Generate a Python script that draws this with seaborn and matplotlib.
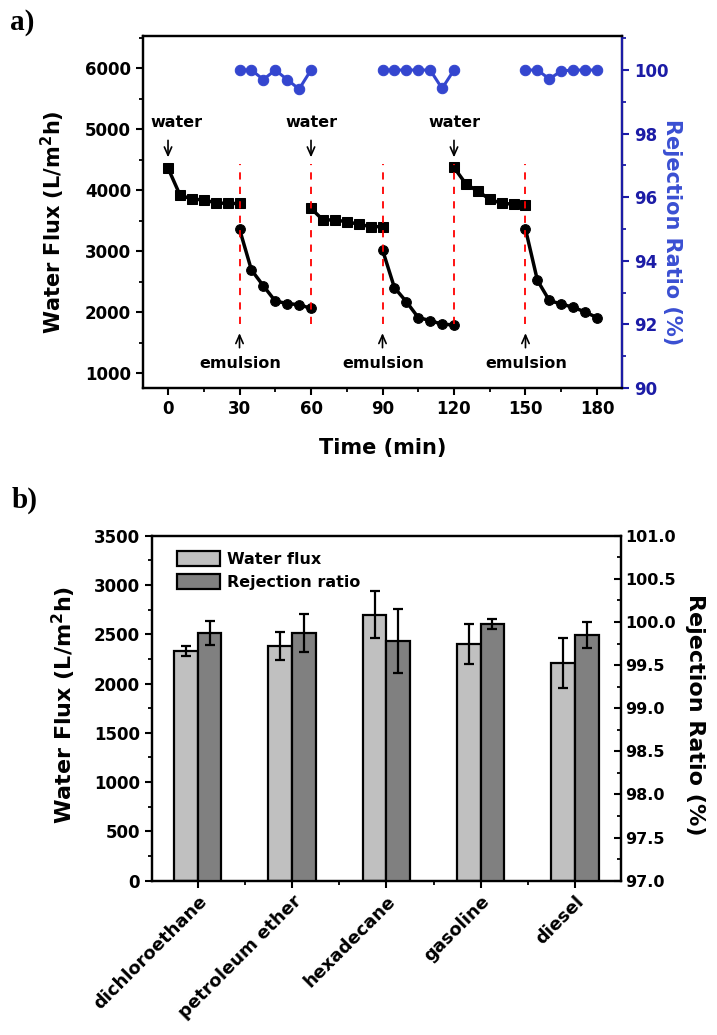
import numpy as np
import pandas as pd
import matplotlib
matplotlib.use("Agg")
import matplotlib.pyplot as plt
import seaborn as sns
from matplotlib.ticker import MultipleLocator, FormatStrFormatter
from matplotlib.patches import Patch

# ---------------- data: panel a ----------------
t_w1 = [0, 5, 10, 15, 20, 25, 30]
flux_w1 = [4360, 3920, 3850, 3840, 3790, 3780, 3780]
t_e1 = [30, 35, 40, 45, 50, 55, 60]
flux_e1 = [3360, 2690, 2430, 2180, 2140, 2120, 2060]
rej_e1 = [100.0, 100.0, 99.7, 100.0, 99.7, 99.4, 100.0]

t_w2 = [60, 65, 70, 75, 80, 85, 90]
flux_w2 = [3700, 3510, 3510, 3480, 3440, 3400, 3400]
t_e2 = [90, 95, 100, 105, 110, 115, 120]
flux_e2 = [3020, 2400, 2170, 1910, 1860, 1800, 1790]
rej_e2 = [100.0, 100.0, 100.0, 100.0, 100.0, 99.42, 100.0]

t_w3 = [120, 125, 130, 135, 140, 145, 150]
flux_w3 = [4370, 4100, 3980, 3850, 3780, 3770, 3760]
t_e3 = [150, 155, 160, 165, 170, 175, 180]
flux_e3 = [3360, 2520, 2190, 2130, 2080, 2000, 1910]
rej_e3 = [100.0, 100.0, 99.72, 99.97, 100.0, 100.0, 100.0]

switch_times = [30, 60, 90, 120, 150]
water_marks = [0, 60, 120]
emulsion_marks = [30, 90, 150]

# ---------------- data: panel b ----------------
oils = ["dichloroethane", "petroleum ether", "hexadecane", "gasoline", "diesel"]
flux_b = [2330, 2380, 2700, 2400, 2210]
flux_b_err = [55, 145, 240, 205, 250]
rej_b = [99.87, 99.87, 99.78, 99.98, 99.85]
rej_b_err = [0.14, 0.22, 0.37, 0.06, 0.15]
series_b = ["Water flux", "Rejection ratio"]

# ---------------- style ----------------
sns.set_theme(style="ticks")
plt.rcParams.update({
    "font.family": ["DejaVu Sans"],
    "font.weight": "bold",
    "axes.labelweight": "bold",
    "text.color": "black",
    "axes.labelcolor": "black",
    "axes.linewidth": 1.6,
    "axes.edgecolor": "black",
    "xtick.color": "black",
    "ytick.color": "black",
    "xtick.major.width": 1.5,
    "ytick.major.width": 1.5,
    "xtick.minor.width": 1.3,
    "ytick.minor.width": 1.3,
    "xtick.major.size": 5,
    "ytick.major.size": 5,
    "xtick.minor.size": 3,
    "ytick.minor.size": 3,
    "xtick.top": False,
    "ytick.right": False,
})

fig = plt.figure(figsize=(7.17, 10.35), dpi=100)
W, H = 717, 1035

# ================= panel a =================
ax = fig.add_axes([143 / W, 1 - 388 / H, 479 / W, 352 / H])
axr = ax.twinx()

segs = []
for k, (t, f, kind) in enumerate([(t_w1, flux_w1, "water"), (t_e1, flux_e1, "emulsion"),
                                  (t_w2, flux_w2, "water"), (t_e2, flux_e2, "emulsion"),
                                  (t_w3, flux_w3, "water"), (t_e3, flux_e3, "emulsion")]):
    segs.append(pd.DataFrame({"t": t, "flux": f, "kind": kind, "seg": k}))
df_flux = pd.concat(segs, ignore_index=True)

rsegs = []
for k, (t, r) in enumerate([(t_e1, rej_e1), (t_e2, rej_e2), (t_e3, rej_e3)]):
    rsegs.append(pd.DataFrame({"t": t, "rej": r, "seg": k}))
df_rej = pd.concat(rsegs, ignore_index=True)

sns.lineplot(data=df_flux, x="t", y="flux", units="seg", estimator=None,
             style="kind", markers={"water": "s", "emulsion": "o"}, dashes=False,
             color="black", linewidth=2.5, markersize=7, markeredgecolor="black",
             legend=False, ax=ax, zorder=2)

blue = "#3446cf"
sns.lineplot(data=df_rej, x="t", y="rej", units="seg", estimator=None,
             marker="o", color=blue, linewidth=2.2, markersize=7.5,
             markeredgecolor=blue, legend=False, ax=axr)

for ts in switch_times:
    ax.vlines(ts, 1800, 4420, colors="red", linestyles=(0, (4, 4)), linewidth=1.3, zorder=3)

ap = dict(arrowstyle="->,head_length=0.5,head_width=0.22", color="black", lw=1.2)
for i, tw in enumerate(water_marks):
    ax.annotate("", xy=(tw, 4490), xytext=(tw, 4860), arrowprops=ap)
    ax.text(tw + (3.6 if i == 0 else 0.3), 5100, "water", ha="center", va="center",
            fontsize=11.5, fontweight="bold")
for te in emulsion_marks:
    ax.annotate("", xy=(te, 1700), xytext=(te, 1370), arrowprops=ap)
    ax.text(te + 0.5, 1150, "emulsion", ha="center", va="center",
            fontsize=11.5, fontweight="bold")

ax.set_xlim(-10.5, 190.5)
axr.set_ylim(90, 101.07)
ax.xaxis.set_major_locator(MultipleLocator(30))
ax.xaxis.set_minor_locator(MultipleLocator(15))
ax.set_yticks([1000, 2000, 3000, 4000, 5000, 6000])
ax.yaxis.set_minor_locator(MultipleLocator(500))
ax.set_ylim(755, 6525)
axr.yaxis.set_major_locator(MultipleLocator(2))
axr.yaxis.set_minor_locator(MultipleLocator(1))

ax.tick_params(axis="both", which="both", direction="out", labelsize=12)
ax.tick_params(axis="x", which="both", top=False, labeltop=False)
ax.tick_params(axis="y", which="both", right=False, labelright=False)
axr.tick_params(axis="x", which="both", top=False, bottom=False, labeltop=False, labelbottom=False)
for lab in ax.get_xticklabels() + ax.get_yticklabels():
    lab.set_fontweight("bold")

navy = "#1c1ca6"
axr.spines["right"].set_color(navy)
axr.tick_params(axis="y", which="both", direction="out", colors=navy, labelsize=12,
                left=False, labelleft=False)
for lab in axr.get_yticklabels():
    lab.set_fontweight("bold")
    lab.set_color(navy)

ax.set_xlabel("Time (min)", fontsize=15, fontweight="bold")
ax.xaxis.label.set_va("center")
ax.xaxis.set_label_coords(0.501, -0.170)
ax.set_ylabel("Water Flux (L/m$^2$h)", fontsize=15, fontweight="bold")
ax.yaxis.label.set_va("center")
ax.yaxis.set_label_coords((53 - 143) / 479, 0.472)
axr.set_ylabel("Rejection Ratio (%)", fontsize=15, fontweight="bold", color="#3a4fd2", rotation=270)
axr.yaxis.label.set_va("center")
axr.yaxis.set_label_coords((672 - 143) / 479, 0.443)

fig.text(22 / W, 1 - 23 / H, "a)", ha="center", va="center", fontsize=21,
         fontweight="bold", family=["Liberation Serif", "DejaVu Serif"])

# ================= panel b =================
bx = fig.add_axes([152 / W, 1 - 880.7 / H, 468.7 / W, 345 / H])
bxr = bx.twinx()

df_b = pd.DataFrame({
    "oil": oils * 2,
    "series": [series_b[0]] * 5 + [series_b[1]] * 5,
    "flux": flux_b + [np.nan] * 5,
    "rej": [np.nan] * 5 + rej_b,
})
pal = {series_b[0]: "#c0c0c0", series_b[1]: "#808080"}

sns.barplot(data=df_b, x="oil", y="flux", hue="series", order=oils, hue_order=series_b,
            palette=pal, width=0.5, edgecolor="black", linewidth=1.6, errorbar=None,
            legend=False, ax=bx)
sns.barplot(data=df_b, x="oil", y="rej", hue="series", order=oils, hue_order=series_b,
            palette=pal, width=0.5, edgecolor="black", linewidth=1.6, errorbar=None,
            legend=False, ax=bxr)

xpos = np.arange(len(oils))
bx.errorbar(xpos - 0.125, flux_b, yerr=flux_b_err, fmt="none", ecolor="black",
            elinewidth=1.6, capsize=3.5, capthick=1.6, zorder=5)
bxr.errorbar(xpos + 0.125, rej_b, yerr=rej_b_err, fmt="none", ecolor="black",
             elinewidth=1.6, capsize=3.5, capthick=1.6, zorder=5)

bx.set_xlim(-0.485, 4.485)
bx.set_ylim(0, 3500)
bxr.set_ylim(97.0, 101.0)
bx.yaxis.set_major_locator(MultipleLocator(500))
bx.yaxis.set_minor_locator(MultipleLocator(250))
bxr.yaxis.set_major_locator(MultipleLocator(0.5))
bxr.yaxis.set_minor_locator(MultipleLocator(0.25))
bxr.yaxis.set_major_formatter(FormatStrFormatter("%.1f"))

bx.set_xticks(xpos)
bx.xaxis.set_minor_locator(MultipleLocator(0.5))
bx.tick_params(axis="both", which="both", direction="out", labelsize=12)
bx.tick_params(axis="x", which="both", top=False, labeltop=False)
bx.tick_params(axis="y", which="both", right=False, labelright=False)
bxr.tick_params(axis="x", which="both", top=False, bottom=False, labeltop=False, labelbottom=False)
bxr.tick_params(axis="y", which="both", direction="in", labelsize=11.5, left=False, labelleft=False)
bx.set_xticklabels(oils, rotation=45, ha="right", rotation_mode="anchor",
                   fontsize=13, fontweight="bold")
for lab in bx.get_yticklabels() + bxr.get_yticklabels():
    lab.set_fontweight("bold")

bx.set_xlabel("")
bx.set_ylabel("Water Flux (L/m$^2$h)", fontsize=16, fontweight="bold")
bx.yaxis.label.set_va("center")
bx.yaxis.set_label_coords((64 - 152) / 468.7, 0.509)
bxr.set_ylabel("Rejection Ratio (%)", fontsize=16, fontweight="bold", rotation=270)
bxr.yaxis.label.set_va("center")
bxr.yaxis.set_label_coords((695 - 152) / 468.7, 0.48)

handles = [Patch(facecolor=pal[s], edgecolor="black", linewidth=1.6, label=s) for s in series_b]
bx.legend(handles=handles, loc="upper left", bbox_to_anchor=(0.04, 0.975), frameon=False,
          prop={"weight": "bold", "size": 11.5}, handlelength=2.7, handleheight=1.05,
          handletextpad=0.45, labelspacing=0.45, borderaxespad=0.0)

fig.text(25 / W, 1 - 500 / H, "b)", ha="center", va="center", fontsize=21,
         fontweight="bold", family=["Liberation Serif", "DejaVu Serif"])

fig.savefig("out.png", dpi=100)
